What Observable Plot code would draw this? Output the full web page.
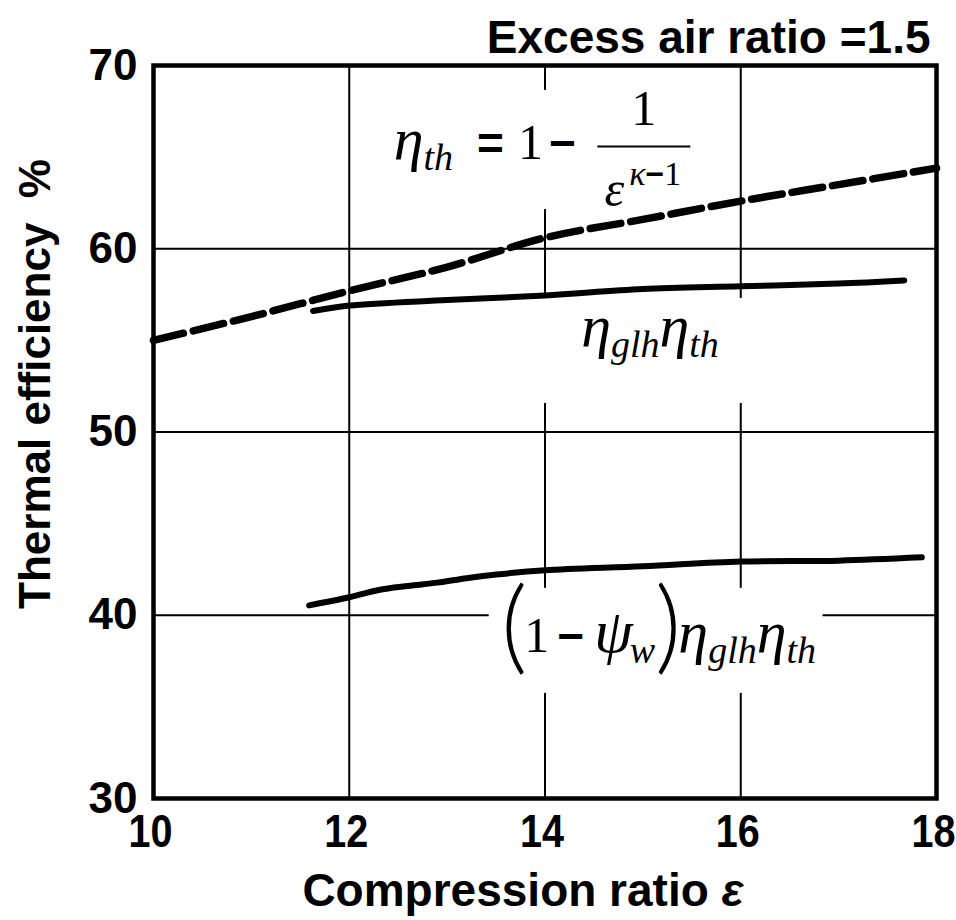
<!DOCTYPE html>
<html><head><meta charset="utf-8">
<script src="https://cdn.jsdelivr.net/npm/d3@7"></script>
<script src="https://cdn.jsdelivr.net/npm/@observablehq/plot@0.6"></script>
<style>body{margin:0;background:#fff}</style>
</head><body><div id="chart"></div>
<script>
// ---- data ----
const xTicks = [10, 12, 14, 16, 18];
const yTicks = [30, 40, 50, 60, 70];
const gridXValues = [12, 14, 16];
const gridYValues = [40, 50, 60];

// theoretical Otto efficiency (dashed)
const theoryX = [10, 11, 12, 13, 14, 15, 16, 17, 18];
const theoryY = [55.0, 56.3, 57.7, 59.0, 60.6, 61.6, 62.6, 63.5, 64.4];
// eta_glh * eta_th
const glhX = [11.63, 12, 13, 14, 15, 16, 17, 17.67];
const glhY = [56.6, 56.9, 57.2, 57.45, 57.8, 57.95, 58.1, 58.27];
// (1 - psi_w) eta_glh eta_th
const netX = [11.59, 12.0, 12.3, 12.6, 12.9, 13.2, 13.5, 14.0, 15, 16, 17, 17.85];
const netY = [40.54, 40.98, 41.38, 41.6, 41.78, 42.02, 42.22, 42.45, 42.67, 42.93, 42.98, 43.16];

// annotation anchors (data units)
const labelKeys = ["eqTheory", "eqNum", "eqDen", "eqGlh", "eqNet"];
const labelX = [12.455, 15.01, 15.0, 14.37, 13.55];
const labelY = [64.92, 66.73, 62.36, 54.72, 38.02];
const labelAnchor = ["start", "middle", "middle", "start", "start"];
// fraction bar
const fracX1 = [14.54], fracX2 = [15.49], fracY = [65.58];
// white boxes behind labels (grid is interrupted there)
const boxX1 = [12.3, 13.5, 13.43];
const boxX2 = [15.6, 16.5, 16.84];
const boxY1 = [62.14, 51.56, 35.74];
const boxY2 = [68.64, 57.29, 41.47];

const titleText = "Excess air ratio =1.5";
const yTitle = "Thermal efficiency\u00a0\u00a0%";

// ---- build tables ----
const line = (X, Y) => X.map((x, i) => ({x, y: Y[i]}));
const labels = labelKeys.map((k, i) => ({k, x: labelX[i], y: labelY[i], a: labelAnchor[i]}));
const boxes = boxX1.map((d, i) => ({x1: d, x2: boxX2[i], y1: boxY1[i], y2: boxY2[i]}));
const fracs = fracX1.map((d, i) => ({x1: d, x2: fracX2[i], y: fracY[i]}));

const SANS = "'Liberation Sans', Arial, Helvetica, sans-serif";
const SERIF = "'Liberation Serif', 'DejaVu Serif', serif";
const PAREN = "Lato, 'Liberation Serif', serif";

const eta = {t: "η", f: SERIF, s: 60, i: true};
const sub = (t, dx) => ({t, f: SERIF, s: 38, i: true, dy: 11, dx});
const specs = {
  eqTheory: [
    eta,
    sub("th"),
    {t: "=", f: SANS, s: 46, w: "bold", dx: 24},
    {t: "1", f: SERIF, s: 50, dx: 14},
    {t: "−", f: SANS, s: 46, w: "bold", dx: 6}
  ],
  eqNum: [{t: "1", f: SERIF, s: 50}],
  eqDen: [
    {t: "ε", f: SERIF, s: 50, i: true},
    {t: "κ", f: SERIF, s: 34, i: true, dy: -21, dx: 5},
    {t: "−", f: SANS, s: 32, w: "bold", dy: -21},
    {t: "1", f: SERIF, s: 34, dy: -21}
  ],
  eqGlh: [
    eta,
    sub("glh"),
    eta,
    sub("th")
  ],
  eqNet: [
    {t: "(", f: PAREN, s: 102, w: "300", dy: 9},
    {t: "1", f: SERIF, s: 50, dx: -3},
    {t: "−", f: SANS, s: 46, w: "bold", dx: 8},
    {t: "ψ", f: SERIF, s: 62, i: true, dx: 10},
    sub("w", -3),
    {t: ")", f: PAREN, s: 102, w: "300", dy: 9},
    {t: "η", f: SERIF, s: 60, i: true, dx: -3},
    sub("glh"),
    eta,
    sub("th")
  ],
  xTitle: [
    {t: "Compression ratio ", f: SANS, s: 46, w: "bold"},
    {t: "ε", f: SANS, s: 46, w: "bold", i: true}
  ]
};

const chart = Plot.plot({
  width: 956,
  height: 920,
  marginLeft: 153,
  marginRight: 20,
  marginTop: 65,
  marginBottom: 122,
  style: {fontFamily: SANS, fontSize: "44px", color: "black", background: "white", overflow: "visible"},
  x: {domain: [10, 18]},
  y: {domain: [30, 70]},
  marks: [
    Plot.ruleX(gridXValues, {stroke: "black", strokeWidth: 2}),
    Plot.ruleY(gridYValues, {stroke: "black", strokeWidth: 2}),
    Plot.rect(boxes, {x1: "x1", x2: "x2", y1: "y1", y2: "y2", fill: "white"}),
    Plot.line(line(theoryX, theoryY), {x: "x", y: "y", stroke: "black", strokeWidth: 7.5, strokeDasharray: "31,10", curve: "catmull-rom"}),
    Plot.line(line(glhX, glhY), {x: "x", y: "y", stroke: "black", strokeWidth: 6, curve: "catmull-rom"}),
    Plot.line(line(netX, netY), {x: "x", y: "y", stroke: "black", strokeWidth: 6, curve: "catmull-rom"}),
    Plot.ruleY(fracs, {y: "y", x1: "x1", x2: "x2", stroke: "black", strokeWidth: 2}),
    Plot.text(labels.filter(d => d.a === "start"), {x: "x", y: "y", text: "k", textAnchor: "start", lineAnchor: "bottom", fontSize: 50, fill: "black"}),
    Plot.text(labels.filter(d => d.a === "middle"), {x: "x", y: "y", text: "k", textAnchor: "middle", lineAnchor: "bottom", fontSize: 50, fill: "black"}),
    Plot.frame({stroke: "black", strokeWidth: 4.5}),
    Plot.axisX({ticks: xTicks, tickSize: 0, tickPadding: 16, fontSize: 46, fontWeight: "bold", dx: -3, label: null}),
    Plot.axisY({ticks: yTicks, tickSize: 0, tickPadding: 16, fontSize: 44, fontWeight: "bold", label: null}),
    Plot.text([titleText], {frameAnchor: "top-right", text: d => d, textAnchor: "end", lineAnchor: "bottom", dx: -6, dy: -13, fontSize: 46, fontWeight: "bold", fill: "black"}),
    Plot.text(["xTitle"], {frameAnchor: "bottom", text: d => d, textAnchor: "middle", lineAnchor: "bottom", dx: -22, dy: 107, fontSize: 46, fontWeight: "bold", fill: "black"}),
    Plot.text([yTitle], {frameAnchor: "left", text: d => d, rotate: -90, textAnchor: "middle", lineAnchor: "middle", dx: -118, dy: -48, fontSize: 44, fontWeight: "bold", fill: "black"})
  ]
});

function build(el, segs) {
  el.textContent = "";
  let cur = 0;
  for (const g of segs) {
    const ts = document.createElementNS("http://www.w3.org/2000/svg", "tspan");
    const target = g.dy || 0;
    if (target !== cur) ts.setAttribute("dy", target - cur);
    cur = target;
    if (g.dx) ts.setAttribute("dx", g.dx);
    ts.setAttribute("font-family", g.f);
    ts.setAttribute("font-size", g.s);
    if (g.i) ts.setAttribute("font-style", "italic");
    ts.setAttribute("font-weight", g.w || "normal");
    ts.textContent = g.t;
    el.appendChild(ts);
  }
}
const svg = d3.select(chart);
svg.selectAll("text").each(function () {
  const key = this.textContent;
  if (specs[key]) build(this, specs[key]);
});
// condensed look for the x tick labels (like the reference's narrow bold face)
svg.selectAll('g[aria-label="x-axis tick label"] text').each(function () {
  const t = this.getAttribute("transform") || "";
  this.setAttribute("transform", t + " scale(0.86,1)");
});

document.getElementById("chart").appendChild(chart);
</script>
</body></html>
